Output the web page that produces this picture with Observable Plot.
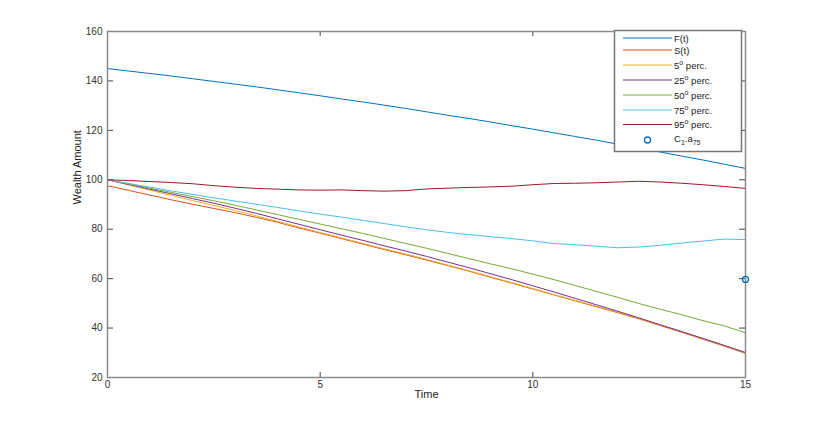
<!DOCTYPE html>
<html>
<head>
<meta charset="utf-8">
<script src="https://cdn.jsdelivr.net/npm/d3@7"></script>
<script src="https://cdn.jsdelivr.net/npm/@observablehq/plot@0.6"></script>
<style>
  html, body { margin: 0; padding: 0; background: #fff; }
  #chart { position: relative; width: 823px; height: 424px; }
</style>
</head>
<body>
<div id="chart"></div>
<script>
// ---- data ----
const times = [0,0.5,1,1.5,2,2.5,3,3.5,4,4.5,5,5.5,6,6.5,7,7.5,8,8.5,9,9.5,10,10.5,11,11.5,12,12.5,13,13.5,14,14.5,15];
const F   = [145,144.0,143.0,142.0,140.9,139.8,138.7,137.6,136.4,135.2,134.0,132.7,131.5,130.2,128.9,127.5,126.1,124.8,123.4,121.9,120.5,119.0,117.5,116.0,114.4,112.8,111.2,109.6,108.0,106.3,104.6];
const S   = [97.6,95.7,93.8,91.9,90.1,88.4,86.7,84.8,82.8,80.5,78.4,76.2,74.0,71.8,69.7,67.5,65.3,63.0,60.6,58.2,55.8,53.4,51.0,48.6,46.2,43.7,41.0,38.3,35.5,32.7,29.8];
const p5  = [100,97.9,95.8,93.7,91.6,89.6,87.6,85.4,83.2,80.9,78.7,76.5,74.3,72.1,70.0,67.8,65.5,63.2,60.8,58.4,56.0,53.5,51.2,48.8,46.4,43.9,41.2,38.5,35.7,32.9,30.0];
const p25 = [100,98.1,96.2,94.3,92.4,90.5,88.5,86.4,84.2,82.0,79.8,77.6,75.5,73.3,71.2,69.0,66.7,64.4,62.0,59.6,57.1,54.6,52.0,49.4,46.8,44.1,41.3,38.6,35.8,33.0,30.1];
const p50 = [100,98.3,96.6,94.9,93.2,91.5,89.7,87.8,85.9,84.0,82.1,80.2,78.3,76.3,74.3,72.3,70.2,68.1,66.0,64.0,61.8,59.6,57.2,54.8,52.4,49.9,47.6,45.4,43.0,40.9,38.1];
const p75 = [100,98.5,97.0,95.5,94.1,92.7,91.4,90.1,88.8,87.4,86.1,84.9,83.6,82.3,81.0,79.8,78.7,77.8,77.0,76.2,75.3,74.2,73.7,73.1,72.5,72.8,73.5,74.4,75.2,76.0,75.8];
const p95 = [100,99.7,99.3,98.9,98.4,97.6,97.0,96.5,96.2,95.9,95.8,95.9,95.6,95.4,95.6,96.3,96.6,96.9,97.1,97.4,98.0,98.5,98.6,98.8,99.1,99.4,99.1,98.6,98.0,97.3,96.5];
const markerT = [15];
const markerV = [59.7];

const seriesNames  = ["F(t)", "S(t)", "5", "25", "50", "75", "95"];
const seriesColors = ["#0072BD", "#D95319", "#EDB120", "#7E2F8E", "#77AC30", "#4DBEEE", "#A2142F"];
const seriesValues = [F, S, p5, p25, p50, p75, p95];
const markerLabel = "C";

const xTicks = [0, 5, 10, 15];
const yTicks = [20, 40, 60, 80, 100, 120, 140, 160];
const xLabel = "Time";
const yLabel = "Wealth Amount";

// ---- chart ----
const W = 823, H = 424, mL = 107, mR = 78, mT = 31, mB = 47;
const fw = W - mL - mR, fh = H - mT - mB;
const font = "'Liberation Sans', Arial, Helvetica, sans-serif";

const lineMarks = seriesValues.map((vals, k) =>
  Plot.line(vals, {x: (d, i) => times[i], y: d => d, stroke: seriesColors[k], strokeWidth: 1})
);

const svg = Plot.plot({
  width: W, height: H,
  marginLeft: mL, marginRight: mR, marginTop: mT, marginBottom: mB,
  x: {domain: [0, 15]},
  y: {domain: [20, 160]},
  style: {fontFamily: font, fontSize: "10px", color: "#333", background: "#fff"},
  marks: [
    Plot.axisX({ticks: xTicks, tickSize: 0, tickPadding: 3, label: null, tickFormat: d => String(d)}),
    Plot.axisY({ticks: yTicks, tickSize: 0, tickPadding: 5, label: null, tickFormat: d => String(d)}),
    Plot.ruleY(yTicks, {insetRight: fw - 6, stroke: "#444"}),
    Plot.ruleY(yTicks, {insetLeft: fw - 6, stroke: "#444"}),
    Plot.ruleX(xTicks, {insetTop: fh - 5, stroke: "#444"}),
    Plot.ruleX(xTicks, {insetBottom: fh - 5, stroke: "#444"}),
    ...lineMarks,
    Plot.frame({stroke: "#8a8a8a", strokeWidth: 1.5}),
    Plot.dot(markerV, {x: (d, i) => markerT[i], y: d => d, r: 3, stroke: seriesColors[0], fill: "none", strokeWidth: 1.3}),
    Plot.text([xLabel], {text: d => d, frameAnchor: "bottom", dy: 20, fontSize: 11, fill: "#222"}),
    Plot.text([yLabel], {text: d => d, frameAnchor: "left", dx: -30, rotate: -90, fontSize: 11, fill: "#222"})
  ]
});
document.getElementById("chart").appendChild(svg);

// ---- legend (inside the axes, top right) ----
const lg = d3.select(svg).append("g")
  .attr("font-family", font).attr("font-size", 9.5).attr("fill", "#222").attr("text-anchor", "start");
lg.append("rect").attr("x", 614.5).attr("y", 30.5).attr("width", 127).attr("height", 121)
  .attr("fill", "#fff").attr("stroke", "#777").attr("stroke-width", 1.5);
const rowY = [38, 50, 65, 80, 95, 110, 124.5, 140];
seriesNames.forEach((name, k) => {
  const y = rowY[k];
  lg.append("line").attr("x1", 623).attr("x2", 672).attr("y1", y).attr("y2", y)
    .attr("stroke", seriesColors[k]).attr("stroke-width", 1);
  const t = lg.append("text").attr("x", 674).attr("y", y + 3.5).attr("text-anchor", "start");
  if (k < 2) {
    t.text(name);
  } else {
    t.append("tspan").text(name);
    t.append("tspan").attr("dy", -4).attr("font-size", 7).text("o");
    t.append("tspan").attr("dy", 4).text(" perc.");
  }
});
{
  const y = rowY[7];
  lg.append("circle").attr("cx", 647.5).attr("cy", y).attr("r", 3)
    .attr("fill", "none").attr("stroke", seriesColors[0]).attr("stroke-width", 1.3);
  const t = lg.append("text").attr("x", 674).attr("y", y + 2).attr("text-anchor", "start");
  t.append("tspan").text(markerLabel);
  t.append("tspan").attr("dy", 3).attr("font-size", 7).text("1");
  t.append("tspan").attr("dy", -3).text(".a");
  t.append("tspan").attr("dy", 3).attr("font-size", 7).text("75");
}
</script>
</body>
</html>
